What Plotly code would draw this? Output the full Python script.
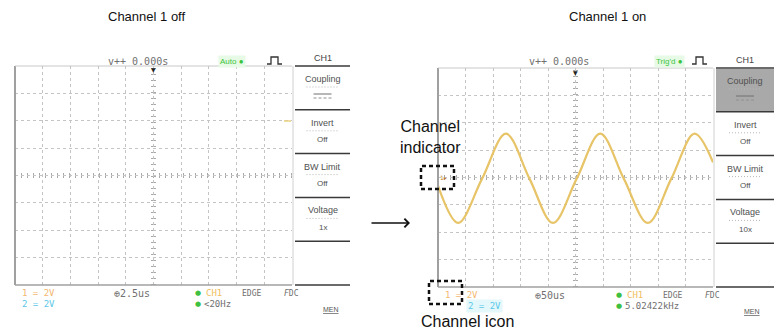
import plotly.graph_objects as go

W, H = 774, 335

# ---------------- data ----------------
titles = ["Channel 1 off", "Channel 1 on"]
callouts = ["Channel<br>indicator", "Channel icon"]
menu_header = "CH1"
menu_titles = ["Coupling", "Invert", "BW Limit", "Voltage"]
menu_values_off = ["", "Off", "Off", "1x"]
menu_values_on = ["", "Off", "Off", "10x"]
timebase = ["2.5us", "50us"]
trig_state = ["Auto", "Trig'd"]
trig_freq = ["<20Hz", "5.02422kHz"]
top_delay = "v++ 0.000s"
ch1_scale = "1 = 2V"
ch2_scale = "2 = 2V"

# Channel 1 waveform (divisions)
wave_x = [0, 0.73, 1.60, 2.47, 3.33, 4.18, 5.04, 5.90, 6.76, 7.63, 8.48, 9.33, 10]
wave_y = [-0.30, -1.66, -0.05, 1.60, -0.05, -1.66, -0.05, 1.60, -0.05, -1.66, -0.05, 1.60, 0.55]

grid_x_range = [0, 10]
grid_y_range = [-4, 4]


def px(x):
    return x / W


def py(y):
    return 1 - y / H


fig = go.Figure()

screens = [
    dict(gx0=15, gx1=292, gy0=66, gy1=285, mx0=295, mx1=350, xa="x", ya="y",
         vals=menu_values_off, tb=timebase[0], trig=trig_state[0], freq=trig_freq[0], off=0),
    dict(gx0=438, gx1=713, gy0=68, gy1=287, mx0=716, mx1=774, xa="x2", ya="y2",
         vals=menu_values_on, tb=timebase[1], trig=trig_state[1], freq=trig_freq[1], off=421),
]

shapes = []
ann = []


def A(**kw):
    kw.setdefault("xref", "paper")
    kw.setdefault("yref", "paper")
    kw.setdefault("showarrow", False)
    kw.setdefault("xanchor", "center")
    kw.setdefault("yanchor", "middle")
    ann.append(kw)


def L(x0, y0, x1, y1, color, width, dash="solid"):
    shapes.append(dict(type="line", xref="paper", yref="paper", x0=px(x0), x1=px(x1),
                       y0=py(y0), y1=py(y1), line=dict(color=color, width=width, dash=dash)))


gray_txt = "#707070"
mono = dict(family="DejaVu Sans Mono", size=9, color=gray_txt)

for i, s in enumerate(screens):
    xr, yr = s["xa"], s["ya"]
    # center cross with tick marks
    shapes.append(dict(type="line", xref=xr, yref=yr, x0=0, x1=10, y0=0, y1=0,
                       line=dict(color="#a8a8a8", width=5, dash="1px,5px"), layer="below"))
    shapes.append(dict(type="line", xref=xr, yref=yr, x0=5, x1=5, y0=-4, y1=4,
                       line=dict(color="#a8a8a8", width=5, dash="1px,5px"), layer="below"))
    # frame
    L(s["gx0"], s["gy0"], s["gx0"], s["gy1"], "#a0a0a0", 2)
    L(s["gx0"], s["gy0"], s["gx1"], s["gy0"], "#c8c8c8", 1)
    L(s["gx0"], s["gy1"], s["gx1"], s["gy1"], "#a0a0a0", 1.5)
    L(s["gx1"] + 1, s["gy0"], s["gx1"] + 1, s["gy1"], "#d0d0d0", 1)

    # menu: five equal soft-key slots
    mx0, mx1 = s["mx0"], s["mx1"]
    mc = (mx0 + mx1) / 2
    g0 = s["gy0"]
    slot_h = (s["gy1"] - s["gy0"]) / 5
    if i == 1:
        shapes.append(dict(type="rect", xref="paper", yref="paper", x0=px(mx0), x1=px(mx1),
                           y0=py(g0 + slot_h), y1=py(g0 + 1),
                           fillcolor="#a9a9a9", line=dict(width=0), layer="below"))
    for k in range(6):
        L(mx0, g0 + k * slot_h, mx1, g0 + k * slot_h, "#3a3a3a", 1.5)
    A(x=px(mc), y=py(g0 - 8), text=menu_header,
      font=dict(family="Liberation Sans", size=9, color="#444"))
    for k, t in enumerate(menu_titles):
        top = g0 + k * slot_h
        A(x=px(mc), y=py(top + 13), text=t,
          font=dict(family="Liberation Sans", size=9, color="#505050"))
        L(mc - 16, top + 21, mc + 16, top + 21, "#b8b8b8", 1, "1px,2px")
        if s["vals"][k]:
            A(x=px(mc), y=py(top + 30), text=s["vals"][k],
              font=dict(family="Liberation Sans", size=8, color="#505050"))
        else:
            L(mc - 9, top + 28, mc + 9, top + 28, "#707070", 1)
            L(mc - 9, top + 32, mc + 9, top + 32, "#909090", 1, "3px,2px")

    o = s["off"]
    # top status bar
    A(x=px(138 + o), y=py(61), text=top_delay, font=dict(mono, size=10))
    A(x=px(232 + o + (16 if i else 0)), y=py(61), text=s["trig"] + " ●",
      bgcolor="#e6fae6", font=dict(family="Liberation Sans", size=8, color="#3cc43c"))
    d = 4 if i else 0
    shapes.append(dict(type="path", xref="paper", yref="paper",
                       path="M {} {} L {} {} L {} {} L {} {} L {} {} L {} {}".format(
                           px(267 + o + d), py(64), px(271 + o + d), py(64),
                           px(271 + o + d), py(57), px(278 + o + d), py(57),
                           px(278 + o + d), py(64), px(282 + o + d), py(64)),
                       line=dict(color="#333", width=1.3)))
    A(x=px(153 + o + (1 if i else 0)), y=py(s["gy0"] + 4), text="▼",
      font=dict(family="DejaVu Sans", size=6, color="#222"))

    # bottom status bar
    A(x=px(461 if i else 38), y=py(s["gy1"] + 8), text=ch1_scale,
      font=dict(mono, color="#f2b870"))
    A(x=px(484 if i else 38), y=py(s["gy1"] + 19), text=ch2_scale,
      bgcolor="#e4f8fc" if i else "rgba(0,0,0,0)",
      font=dict(mono, color="#5cc8e8"))
    A(x=px(132 + o - (3 if i else 0)), y=py(s["gy1"] + 8), text="⊕" + s["tb"], font=dict(mono, size=10))
    A(x=px(198 + o), y=py(s["gy1"] + 8), text="●",
      font=dict(family="DejaVu Sans", size=7, color="#40c040"))
    A(x=px(204 + o), y=py(s["gy1"] + 8), text="CH1", xanchor="left",
      font=dict(mono, color="#f0c060"))
    A(x=px(251 + o), y=py(s["gy1"] + 8), text="EDGE", font=dict(mono, size=8))
    A(x=px(293 + o - 2), y=py(s["gy1"] + 8), text="<i>F</i>DC", font=dict(mono, size=8))
    A(x=px(198 + o), y=py(s["gy1"] + 19), text="●",
      font=dict(family="DejaVu Sans", size=7, color="#40c040"))
    A(x=px(202 + o), y=py(s["gy1"] + 19), text=s["freq"], xanchor="left", font=mono)
    A(x=px(337 + o - 6), y=py(s["gy1"] + 24), text="<u>MEN</u>",
      font=dict(family="Liberation Sans", size=7, color="#555"))

# channel 1 ground indicator on right screen
A(x=px(443), y=py(177), text="1▸", font=dict(family="DejaVu Sans", size=6, color="#c08030"))
# trigger level tick, left screen
L(284, 121, 291, 121, "#e8d080", 1.5)

# waveform
fig.add_trace(go.Scatter(x=wave_x, y=wave_y, xaxis="x2", yaxis="y2", mode="lines",
                         line=dict(color="#e8c468", width=2.2, shape="spline", smoothing=1.0),
                         hoverinfo="skip", showlegend=False))
# invisible trace for left grid
fig.add_trace(go.Scatter(x=[None], y=[None], xaxis="x", yaxis="y", showlegend=False))

# titles and callouts
A(x=px(146), y=py(17), text=titles[0], font=dict(family="Liberation Sans", size=13, color="#111"))
A(x=px(607), y=py(17), text=titles[1], font=dict(family="Liberation Sans", size=13, color="#111"))
A(x=px(430), y=py(137), text=callouts[0], font=dict(family="Liberation Sans", size=16, color="#111"))
A(x=px(467), y=py(321), text=callouts[1], font=dict(family="Liberation Sans", size=16, color="#111"))
# dashed boxes
shapes.append(dict(type="rect", xref="paper", yref="paper", x0=px(421), x1=px(454), y0=py(189), y1=py(166),
                   line=dict(color="#111", width=2.5, dash="4px,3px")))
shapes.append(dict(type="rect", xref="paper", yref="paper", x0=px(429), x1=px(462), y0=py(304), y1=py(281),
                   line=dict(color="#111", width=2.5, dash="4px,3px")))
# arrow
A(x=px(410), y=py(223), ax=-40, ay=0, text="", showarrow=True,
  arrowhead=4, arrowsize=1.1, arrowwidth=1.5, arrowcolor="#111")

axis_common = dict(range=grid_x_range, dtick=1, showgrid=True, gridcolor="#c4c4c4", griddash="dot",
                   gridwidth=1, zeroline=False, showticklabels=False, ticks="", showline=False,
                   fixedrange=True)
yaxis_common = dict(axis_common, range=grid_y_range)

fig.update_layout(
    width=W, height=H, margin=dict(l=0, r=0, t=0, b=0),
    paper_bgcolor="white", plot_bgcolor="white",
    xaxis=dict(axis_common, domain=[px(15), px(292)], anchor="y"),
    yaxis=dict(yaxis_common, domain=[py(285), py(66)], anchor="x"),
    xaxis2=dict(axis_common, domain=[px(438), px(713)], anchor="y2"),
    yaxis2=dict(yaxis_common, domain=[py(287), py(68)], anchor="x2"),
    shapes=shapes, annotations=ann, showlegend=False,
)

fig.write_html("out.html", config={"displayModeBar": False},
               post_script="document.body.style.margin='0px';document.body.style.padding='0px';")
